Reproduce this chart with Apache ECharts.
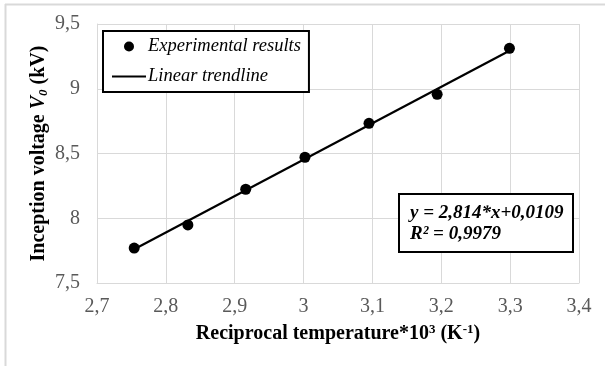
<!DOCTYPE html>
<html>
<head>
<meta charset="utf-8">
<script src="https://cdn.jsdelivr.net/npm/echarts@6/dist/echarts.min.js"></script>
<style>html,body{margin:0;padding:0;background:#fff}#c{width:605px;height:366px}</style>
</head>
<body>
<div id="c"></div>
<script>
// Data
var xValues = [2.754, 2.832, 2.916, 3.002, 3.095, 3.194, 3.299];
var yValues = [7.77, 7.948, 8.224, 8.471, 8.733, 8.957, 9.312];
var trendX = [2.754, 3.299];
var trendY = [7.761, 9.294];
var seriesNames = ['Experimental results', 'Linear trendline'];
var equationText = 'y = 2,814*x+0,0109';
var r2Text = 'R² = 0,9979';

var FONT = '"Liberation Serif", "Times New Roman", serif';
var chart = echarts.init(document.getElementById('c'), null, {renderer: 'canvas'});

var scatterData = xValues.map(function (x, i) { return [x, yValues[i]]; });
var trendData = trendX.map(function (x, i) { return [x, trendY[i]]; });

function fmt(v) {
  var s = (Math.round(v * 10) / 10).toString();
  return s.replace('.', ',');
}

chart.setOption({
  animation: false,
  backgroundColor: '#fff',
  grid: {left: 97, right: 26, top: 24, bottom: 83, containLabel: false},
  legend: {
    orient: 'vertical',
    left: 103, top: 31,
    padding: [6, 8, 6, 8],
    itemGap: 11,
    itemWidth: 34, itemHeight: 10,
    borderColor: '#000', borderWidth: 2,
    backgroundColor: '#fff',
    textStyle: {fontFamily: FONT, fontStyle: 'italic', fontSize: 18.5, color: '#000', padding: [0, 0, 0, -3]},
    data: [
      {name: seriesNames[0], icon: 'circle'},
      {name: seriesNames[1], itemStyle: {opacity: 0}}
    ]
  },
  xAxis: {
    type: 'value', min: 2.7, max: 3.4, interval: 0.1,
    axisLine: {show: true, lineStyle: {color: '#d9d9d9', width: 1}},
    axisTick: {show: false},
    splitLine: {show: true, lineStyle: {color: '#d9d9d9', width: 1}},
    axisLabel: {formatter: fmt, fontFamily: FONT, fontSize: 20, color: '#595959', margin: 14},
    name: '{b|Reciprocal temperature*10}{sup|3}{b| (K}{sup|-1}{b|)}',
    nameLocation: 'middle', nameGap: 40,
    nameTextStyle: {
      rich: {
        b: {fontFamily: FONT, fontWeight: 'bold', fontSize: 20, color: '#000', lineHeight: 22},
        sup: {fontFamily: FONT, fontWeight: 'bold', fontSize: 13, color: '#000', lineHeight: 13, verticalAlign: 'top'}
      }
    }
  },
  yAxis: {
    type: 'value', min: 7.5, max: 9.5, interval: 0.5,
    axisLine: {show: true, lineStyle: {color: '#d9d9d9', width: 1}},
    axisTick: {show: false},
    splitLine: {show: true, lineStyle: {color: '#d9d9d9', width: 1}},
    axisLabel: {formatter: fmt, fontFamily: FONT, fontSize: 20, color: '#595959', margin: 17},
    name: '{b|Inception voltage }{v|V}{s|0}{b| (kV)}',
    nameLocation: 'middle', nameGap: 47, nameRotate: 90, nameMoveOverlap: false,
    nameTextStyle: {
      rich: {
        b: {fontFamily: FONT, fontWeight: 'bold', fontSize: 20, color: '#000', lineHeight: 22},
        v: {fontFamily: FONT, fontWeight: 'bold', fontStyle: 'italic', fontSize: 20, color: '#000', lineHeight: 22},
        s: {fontFamily: FONT, fontWeight: 'bold', fontStyle: 'italic', fontSize: 13, color: '#000', lineHeight: 13, verticalAlign: 'bottom'}
      }
    }
  },
  series: [
    {
      name: seriesNames[1], type: 'line', data: trendData,
      symbol: 'none', lineStyle: {color: '#000', width: 2.2}, itemStyle: {color: '#000'}, z: 2
    },
    {
      name: seriesNames[0], type: 'scatter', data: scatterData,
      symbol: 'circle', symbolSize: 11, itemStyle: {color: '#000', opacity: 1}, z: 3
    }
  ],
  graphic: [
    {type: 'line', shape: {x1: 5, y1: 4.5, x2: 605, y2: 4.5}, style: {stroke: '#d9d9d9', lineWidth: 2}, silent: true},
    {type: 'line', shape: {x1: 5.5, y1: 4, x2: 5.5, y2: 366}, style: {stroke: '#d9d9d9', lineWidth: 2}, silent: true},
    {type: 'rect', shape: {x: 399, y: 194, width: 174, height: 58}, style: {fill: '#fff', stroke: '#000', lineWidth: 2}, z: 10},
    {type: 'text', x: 410, y: 213, z: 11,
      style: {text: equationText, font: 'italic bold 19px ' + FONT, fill: '#000', verticalAlign: 'middle'}},
    {type: 'text', x: 410, y: 234, z: 11,
      style: {text: r2Text, font: 'italic bold 19px ' + FONT, fill: '#000', verticalAlign: 'middle'}}
  ]
});
</script>
</body>
</html>
